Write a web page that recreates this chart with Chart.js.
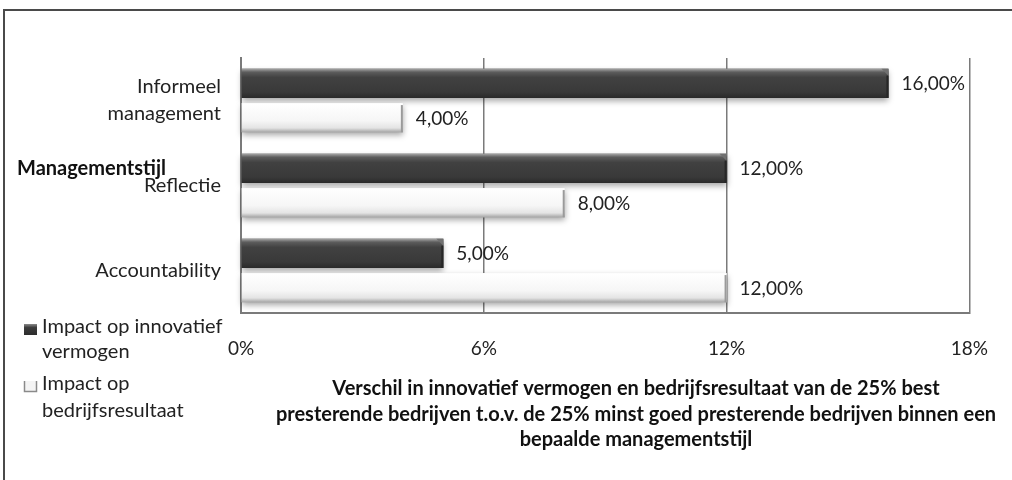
<!DOCTYPE html>
<html>
<head>
<meta charset="utf-8">
<script src="https://cdn.jsdelivr.net/npm/chart.js@4.4.1/dist/chart.umd.min.js"></script>
<style>
  html, body { margin: 0; padding: 0; background: #ffffff; }
  #wrap { position: relative; width: 1012px; height: 480px; }
</style>
</head>
<body>
<div id="wrap"><canvas id="c" width="1012" height="480"></canvas></div>
<script>
// ---- data ----
const categories = [["Informeel", "management"], "Reflectie", "Accountability"];
const innovatiefVermogen = [16, 12, 5];
const bedrijfsresultaat = [4, 8, 12];
const seriesNames = ["Impact op innovatief vermogen", "Impact op bedrijfsresultaat"];
const legendLines = [["Impact op innovatief", "vermogen"], ["Impact op", "bedrijfsresultaat"]];
const xTickValues = [0, 6, 12, 18];
const yAxisTitle = "Managementstijl";
const xAxisTitleLines = [
  "Verschil in innovatief vermogen en bedrijfsresultaat van de 25% best",
  "presterende bedrijven t.o.v. de 25% minst goed presterende bedrijven binnen een",
  "bepaalde managementstijl"
];

const FONT = "Lato, 'Open Sans', sans-serif";
const TEXT = "#222222";

function fmt(v) { return v.toFixed(2).replace('.', ',') + '%'; }

const decorPlugin = {
  id: 'decor',
  afterDatasetsDraw(chart) {
    const ctx = chart.ctx;
    chart.data.datasets.forEach((ds, di) => {
      const meta = chart.getDatasetMeta(di);
      meta.data.forEach((el, i) => {
        const p = el.getProps(['x', 'y', 'base', 'height'], true);
        const top = p.y - p.height / 2, h = p.height;
        const x0 = p.base, w = p.x - p.base;
        const g = ctx.createLinearGradient(0, top, 0, top + h);
        if (di === 0) {
          g.addColorStop(0, '#a8a8a8');
          g.addColorStop(0.12, '#5c5c5c');
          g.addColorStop(0.3, '#414141');
          g.addColorStop(0.8, '#393939');
          g.addColorStop(1, '#2a2a2a');
        } else {
          g.addColorStop(0, '#ffffff');
          g.addColorStop(0.6, '#f6f6f6');
          g.addColorStop(0.85, '#e4e4e4');
          g.addColorStop(1, '#a4a4a4');
        }
        ctx.save();
        ctx.shadowColor = 'rgba(0,0,0,0.35)';
        ctx.shadowBlur = 6;
        ctx.shadowOffsetY = 3;
        ctx.fillStyle = g;
        ctx.fillRect(x0, top, w, h);
        ctx.restore();
        // right bevel
        ctx.save();
        if (di === 0) {
          ctx.fillStyle = '#707070';
          ctx.beginPath();
          ctx.moveTo(p.x - 7, top);
          ctx.lineTo(p.x, top);
          ctx.lineTo(p.x, top + 7);
          ctx.closePath();
          ctx.fill();
          ctx.fillStyle = '#262626';
          ctx.fillRect(p.x - 2, top + 7, 2, h - 7);
        } else {
          ctx.fillStyle = '#9a9a9a';
          ctx.fillRect(p.x - 2, top + 2, 2, h - 2);
        }
        ctx.restore();
        // value label
        ctx.save();
        ctx.font = '19px ' + FONT;
        ctx.fillStyle = TEXT;
        ctx.textAlign = 'left';
        ctx.textBaseline = 'middle';
        ctx.fillText(fmt(ds.data[i]), p.x + 13, p.y + 1);
        ctx.restore();
      });
    });
  },
  afterDraw(chart) {
    const ctx = chart.ctx;
    ctx.save();
    // outer frame
    ctx.strokeStyle = '#4a4a4a';
    ctx.lineWidth = 2;
    ctx.beginPath();
    ctx.moveTo(4, 480);
    ctx.lineTo(4, 10);
    ctx.lineTo(1012, 10);
    ctx.stroke();

    // y axis title (horizontal)
    ctx.font = 'bold 20px ' + FONT;
    ctx.fillStyle = '#111';
    ctx.textAlign = 'left';
    ctx.textBaseline = 'alphabetic';
    ctx.fillText(yAxisTitle, 17, 175);

    // x axis title
    ctx.font = 'bold 20px ' + FONT;
    ctx.textAlign = 'center';
    const ty = [395, 421, 446];
    xAxisTitleLines.forEach((t, k) => ctx.fillText(t, 636, ty[k]));

    // legend
    ctx.font = '20px ' + FONT;
    ctx.textAlign = 'left';
    // marker 1 (dark)
    let g = ctx.createLinearGradient(0, 324, 0, 336);
    g.addColorStop(0, '#8a8a8a'); g.addColorStop(0.3, '#3c3c3c'); g.addColorStop(1, '#2a2a2a');
    ctx.fillStyle = g;
    ctx.fillRect(24, 324, 13, 11);
    // marker 2 (light)
    ctx.fillStyle = '#f4f4f4';
    ctx.fillRect(24, 381, 13, 11);
    ctx.strokeStyle = '#8a8a8a';
    ctx.lineWidth = 1.5;
    ctx.beginPath();
    ctx.moveTo(24.5, 381); ctx.lineTo(24.5, 391.5); ctx.lineTo(36.5, 391.5); ctx.lineTo(36.5, 381);
    ctx.stroke();
    ctx.fillStyle = TEXT;
    const lb = [[333, 358], [390, 417]];
    legendLines.forEach((lines, k) => {
      lines.forEach((t, j) => ctx.fillText(t, 42, lb[k][j]));
    });
    ctx.restore();
  }
};

new Chart(document.getElementById('c'), {
  type: 'bar',
  data: {
    labels: categories,
    datasets: [
      { label: seriesNames[0], data: innovatiefVermogen, backgroundColor: '#3b3b3b', borderWidth: 0,
        categoryPercentage: 0.81, barPercentage: 0.85 },
      { label: seriesNames[1], data: bedrijfsresultaat, backgroundColor: '#f4f4f4', borderWidth: 0,
        categoryPercentage: 0.81, barPercentage: 0.85 }
    ]
  },
  options: {
    indexAxis: 'y',
    responsive: false,
    animation: false,
    devicePixelRatio: 1,
    layout: { padding: { left: 0, top: 58, right: 39, bottom: 0 } },
    plugins: { legend: { display: false }, tooltip: { enabled: false } },
    scales: {
      x: {
        min: 0, max: 18,
        afterBuildTicks(scale) { scale.ticks = xTickValues.map(v => ({ value: v })); },
        afterFit(scale) { scale.height = 167; },
        ticks: { callback: v => v + '%', font: { family: FONT, size: 19 }, color: TEXT, padding: 24, maxRotation: 0 },
        grid: { display: true, drawTicks: false, color: '#7a7a7a', lineWidth: 1.5 },
        border: { display: true, color: '#7a7a7a', width: 2 }
      },
      y: {
        afterFit(scale) { scale.width = 241; },
        ticks: { font: { family: FONT, size: 20, lineHeight: 1.35 }, color: TEXT, padding: 20 },
        grid: { display: false, drawTicks: false },
        border: { display: true, color: '#7a7a7a', width: 2 }
      }
    }
  },
  plugins: [decorPlugin]
});
</script>
</body>
</html>
